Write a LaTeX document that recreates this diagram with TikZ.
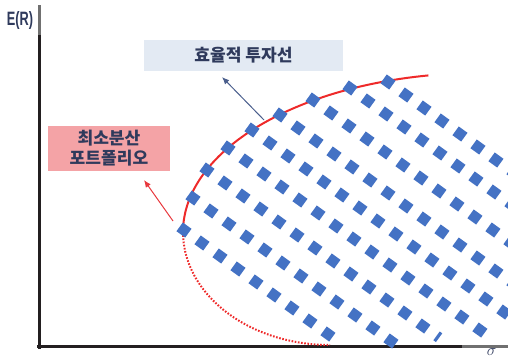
\documentclass[tikz,border=0pt]{standalone}
\usepackage{fontspec}
\newfontfamily\kr{Noto Sans CJK KR Black}
\newfontfamily\lsans{Liberation Sans}
\usetikzlibrary{calc,arrows.meta}
\definecolor{navy}{HTML}{2F3A5C}
\definecolor{bluedot}{HTML}{4472C4}
\definecolor{frontred}{HTML}{EE2A2A}
\definecolor{pinkbox}{HTML}{F4A3A6}
\definecolor{bluebox}{HTML}{E3EAF3}
\definecolor{axisdark}{HTML}{231F20}
\definecolor{axisgray}{HTML}{707070}
\definecolor{arrowblue}{HTML}{4A5E8C}
\definecolor{arrowred}{HTML}{E8383D}
\begin{document}
\begin{tikzpicture}[x=0.75pt,y=-0.75pt,
  dashline/.style={bluedot, line width=8.1pt, dash pattern=on 8.1pt off 8.55pt},
  korlabel/.style={font=\kr\fontsize{12.8pt}{15pt}\selectfont, text=navy, align=center, inner sep=0pt},
  axisline/.style={line width=2.25pt},
  thinarrow/.style={line width=0.75pt, -{Latex[length=5.5pt,width=4.5pt]}}]
\useasboundingbox (0,0) rectangle (508,361);
\begin{scope}
\clip (0,0) rectangle (508,361);
% axes
\coordinate (ytop) at (39.3,5);
\coordinate (ymid) at (39.3,35);
\coordinate (orig) at (39.3,346.5);
\coordinate (xmid) at (462,346.5);
\coordinate (xend) at (508,346.5);
\draw[axisline, axisgray] (ytop) -- (ymid);
\draw[axisline, axisdark] (ymid) -- ([yshift=-1.5pt]orig);
\draw[axisline, axisdark] ([xshift=-1.5pt]orig) -- (xmid);
\draw[axisline, axisgray] (xmid) -- (xend);
% frontier
\draw[frontred, line width=1.5pt] plot[domain=180:100, samples=60] ({480+297*cos(\x)},{232-159*sin(\x)});
\draw[frontred, line width=1.5pt, dash pattern=on 1.2pt off 1.2pt] plot[domain=180:270, samples=60] ({330+147*cos(\x)},{232-113*sin(\x)});
% dotted lines of portfolios
\foreach \i/\fx/\fy/\len in {1/184/230/188.6, 2/193/198/255.2, 3/207/170/291.6, 4/228/148/321.8, 5/252/130/400, 6/280/115/400, 7/313/100/400, 8/350/88/400, 9/388/82/400}{
  \coordinate (F\i) at (\fx-4.38,\fy-3.16);
  \draw[dashline] (F\i) -- ++(0.811*\len,0.586*\len);
}
\end{scope}
% labels
\node[fill=bluebox, minimum width=149.25pt, minimum height=23.25pt, inner sep=0pt] (eff) at (243.5,55.5) {};
\node[korlabel] (efftxt) at (eff.center) {효율적 투자선};
\node[fill=pinkbox, minimum width=91.5pt, minimum height=33.75pt, inner sep=0pt] (mvp) at (109,148.5) {};
\node[korlabel] (mvptxt) at (mvp.center) {최소분산\\포트폴리오};
% arrows
\coordinate (ba1) at (264,120);
\coordinate (ba2) at (222,77);
\draw[thinarrow, arrowblue] (ba1) -- (ba2);
\coordinate (ra1) at (173,221);
\coordinate (ra2) at (144,180);
\draw[thinarrow, arrowred] (ra1) -- (ra2);
% axis labels
\node[inner sep=0pt, text=navy] (ER) at (20,20) {\scalebox{0.66}[1]{\lsans\bfseries\fontsize{14.5pt}{16pt}\selectfont E(R)}};
\node[inner sep=0pt, text=navy, anchor=south] (sig) at (491.5,356) {\fontsize{13pt}{14pt}\selectfont$\sigma$};
\end{tikzpicture}
\end{document}
